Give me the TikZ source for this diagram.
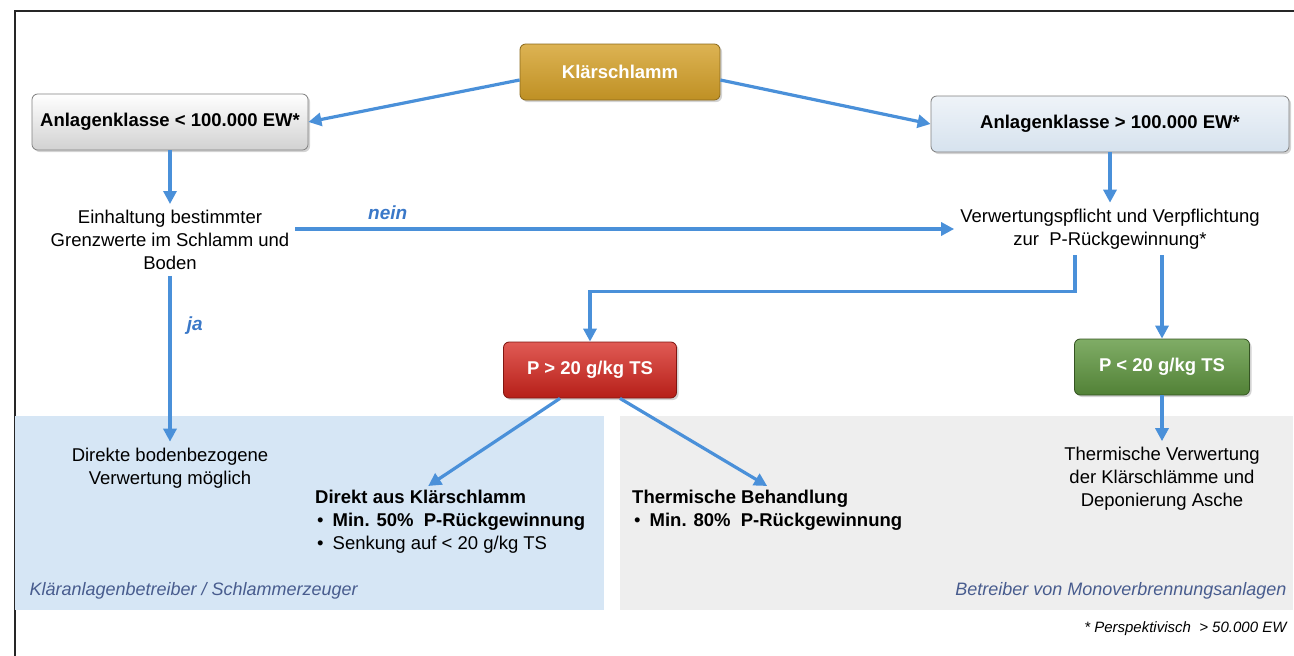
\documentclass[tikz,border=0pt]{standalone}
\usepackage{fontspec}
\setmainfont{Liberation Sans}
\usetikzlibrary{positioning,arrows.meta,shadows}
\definecolor{pfeilblau}{RGB}{74,144,217}
\definecolor{goldbraun}{RGB}{212,160,40}
\definecolor{rotbox}{RGB}{214,36,28}
\definecolor{gruenbox}{RGB}{96,152,64}
\definecolor{graublau}{RGB}{214,226,238}
\definecolor{panelblau}{RGB}{214,230,245}
\definecolor{panelgrau}{RGB}{238,238,238}
\definecolor{labelblau}{RGB}{72,92,142}
\definecolor{neinblau}{RGB}{58,120,200}

\begin{document}
\begin{tikzpicture}[
    x=1pt, y=-1pt,
    font=\fontsize{18.5}{23}\selectfont,
    box/.style={
        rectangle, rounded corners=2mm, thick,
        font=\fontsize{18.5}{23}\selectfont\bfseries,
        minimum height=56pt,
        drop shadow={shadow xshift=2pt, shadow yshift=-2pt, opacity=0.35}
    },
    plain/.style={align=center, inner sep=6pt},
    pfeil/.style={-{Triangle[length=13pt,width=13pt]}, line width=3.2pt, pfeilblau},
    zweig/.style={font=\fontsize{19}{23}\selectfont\bfseries\itshape, neinblau},
    bereich/.style={font=\fontsize{18}{20}\selectfont\itshape, labelblau}
]
\useasboundingbox (0,0) rectangle (1294,656);

% Rahmen und Bereiche
\draw[line width=1.2pt, black!85] (15,656) -- (15,11) -- (1294,11);
\fill[panelblau] (15,416) rectangle (604,610);
\fill[panelgrau] (620,416) rectangle (1293,610);
\node[bereich, anchor=west] (betrklaer) at (26,591) {Kläranlagenbetreiber / Schlammerzeuger};
\node[bereich, anchor=east] (betrmono) at (1290,591) {Betreiber von Monoverbrennungsanlagen};
\node[font=\fontsize{15}{16}\selectfont\itshape, anchor=east] (fussnote) at (1290,629) {* Perspektivisch~~> 50.000 EW};

% Kaesten
\node[box, draw=goldbraun!65!black, top color=goldbraun!80!white, bottom color=goldbraun!90!black,
      text=white, minimum width=200pt] (kschl) at (620,72) {Klärschlamm};
\node[box, draw=black!50, top color=white, bottom color=black!18,
      minimum width=276pt] (klein) at (170,122) {Anlagenklasse < 100.000 EW*};
\node[box, draw=black!50, top color=graublau!40!white, bottom color=graublau,
      minimum width=358pt] (gross) at (1110,124) {Anlagenklasse > 100.000 EW*};

\node[plain] (grenz) at (170,240) {Einhaltung bestimmter\\Grenzwerte im Schlamm und\\Boden};
\node[plain] (pflicht) at (1110,229) {Verwertungspflicht und Verpflichtung\\zur~~P-Rückgewinnung*};

\node[box, draw=rotbox!60!black, top color=rotbox!75!white, bottom color=rotbox!85!black,
      text=white, minimum width=173pt] (pgross) at (590,370) {P > 20 g/kg TS};
\node[box, draw=gruenbox!55!black, top color=gruenbox!80!white, bottom color=gruenbox!85!black,
      text=white, minimum width=175pt] (pklein) at (1162,367) {P < 20 g/kg TS};

\node[plain] (direkt) at (170,468) {Direkte bodenbezogene\\Verwertung möglich};
\node[align=left, anchor=north west, inner sep=4pt] (ausks) at (311,486)
    {\textbf{Direkt aus Klärschlamm}\\
     \hspace*{2pt}\textbullet\hspace{9pt}\textbf{Min. 50\%~~P-Rückgewinnung}\\
     \hspace*{2pt}\textbullet\hspace{9pt}Senkung auf < 20 g/kg TS};
\node[align=left, anchor=north west, inner sep=4pt] (therm) at (628,486)
    {\textbf{Thermische Behandlung}\\
     \hspace*{2pt}\textbullet\hspace{9pt}\textbf{Min. 80\%~~P-Rückgewinnung}};
\node[plain] (thermv) at (1162,479) {Thermische Verwertung\\der Klärschlämme und\\Deponierung Asche};

% Pfeile
\draw[pfeil] ([yshift=-8pt]kschl.west) -- (klein.east);
\draw[pfeil] ([yshift=-8pt]kschl.east) -- (gross.west);
\draw[pfeil] (klein.south) -- (grenz.north);
\draw[pfeil] (gross.south) -- (pflicht.north);
\draw[pfeil] (grenz.east |- pflicht.west) -- node[zweig, above=4pt, pos=0.14] (nein) {nein} (pflicht.west);
\draw[pfeil] (grenz.south) -- node[zweig, right=12pt, pos=0.3] (ja) {ja} (direkt.north);
\draw[pfeil] ([xshift=-35pt]pflicht.south) -- ++(0,36) -| (pgross.north);
\draw[pfeil] (pklein.north |- pflicht.south) -- (pklein.north);
\draw[pfeil] (pklein.south) -- (thermv.north);
\draw[pfeil] ([xshift=-30pt]pgross.south) -- ([xshift=-22pt]ausks.north);
\draw[pfeil] ([xshift=30pt]pgross.south) -- (therm.north);

\end{tikzpicture}
\end{document}
